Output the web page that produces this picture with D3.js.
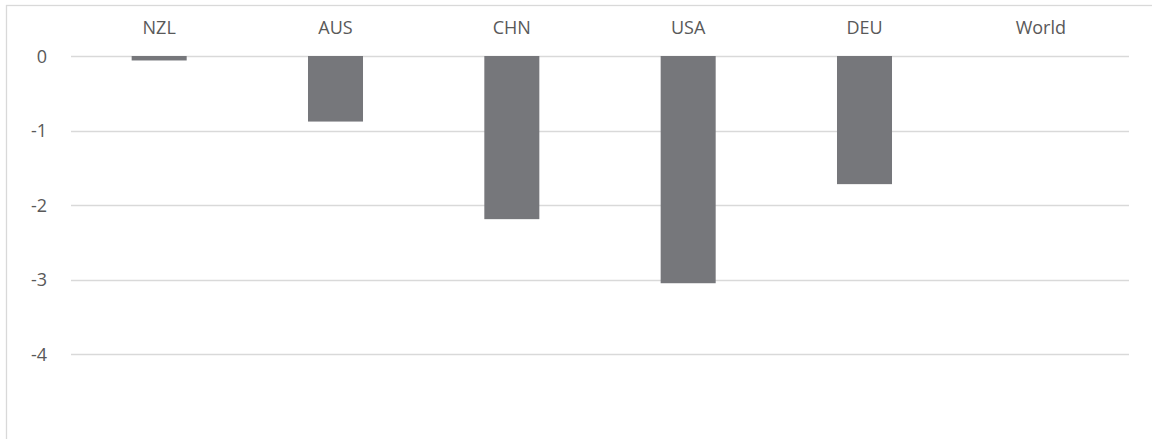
<!DOCTYPE html>
<html>
<head>
<meta charset="utf-8">
<script src="https://cdn.jsdelivr.net/npm/d3@7"></script>
<style>
html,body{margin:0;padding:0;background:#fff;}
svg{display:block;}
</style>
</head>
<body>
<svg id="chart" width="1152" height="439"></svg>
<script>
const categories = ["NZL", "AUS", "CHN", "USA", "DEU", "World"];
const values = [-0.06, -0.88, -2.19, -3.05, -1.72, 0];
const yTicks = [0, -1, -2, -3, -4];

const W = 1152, H = 439;
const svg = d3.select("#chart");
const font = "'Open Sans', sans-serif";

// chart border
svg.append("rect")
  .attr("x", 6.5).attr("y", 5.5)
  .attr("width", 1160).attr("height", 460)
  .attr("fill", "none").attr("stroke", "#d9d9d9").attr("stroke-width", 1.3);

const x = d3.scaleBand().domain(categories).range([71, 1129]).paddingInner(0.688).paddingOuter(0.344);
const y = d3.scaleLinear().domain([0, -4]).range([56, 354]);

// gridlines
svg.append("g").selectAll("line").data(yTicks).join("line")
  .attr("x1", 71).attr("x2", 1129)
  .attr("y1", d => Math.round(y(d)) + 0.5).attr("y2", d => Math.round(y(d)) + 0.5)
  .attr("stroke", "#d9d9d9").attr("stroke-width", 1.3);

// y axis labels
const yAxis = d3.axisLeft(y).tickValues(yTicks).tickSize(0).tickPadding(0).tickFormat(d => String(d));
const gy = svg.append("g").attr("transform", "translate(47,0)").call(yAxis);
gy.select(".domain").remove();
gy.selectAll("text").attr("font-family", font).attr("font-size", 18).attr("fill", "#595959").attr("dy", "0.35em");

// bars
svg.append("g").selectAll("rect").data(categories.map((c, i) => ({c, v: values[i]}))).join("rect")
  .attr("x", d => x(d.c))
  .attr("width", x.bandwidth())
  .attr("y", d => y(Math.max(0, d.v)))
  .attr("height", d => Math.abs(y(d.v) - y(0)))
  .attr("fill", "#76777b");

// category labels at top
const xAxis = d3.axisTop(x).tickSize(0).tickPadding(0);
const gx = svg.append("g").attr("transform", "translate(0,28)").call(xAxis);
gx.select(".domain").remove();
gx.selectAll("text").attr("font-family", font).attr("font-size", 18).attr("fill", "#595959").attr("dy", "0.35em");
</script>
</body>
</html>
